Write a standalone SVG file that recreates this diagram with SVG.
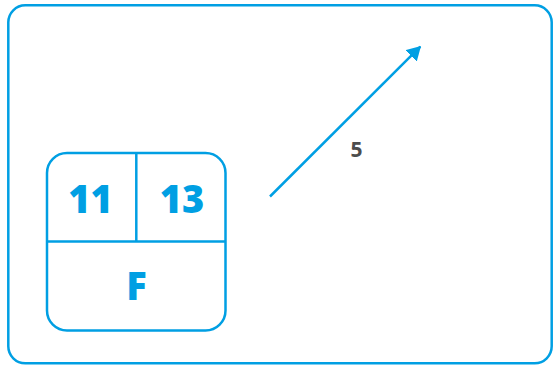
<svg xmlns="http://www.w3.org/2000/svg" width="559" height="365" viewBox="0 0 559 365">
  <style>
    .frame { fill: none; stroke: #009fe3; stroke-width: 2.5; }
    .line { fill: none; stroke: #009fe3; stroke-width: 2.5; }
    .big { font-family: "Open Sans", "Liberation Sans", sans-serif; font-weight: 800; font-size: 38px; fill: #009fe3; text-anchor: middle; }
    .lbl { font-family: "Open Sans", "Liberation Sans", sans-serif; font-weight: 700; font-size: 21px; fill: #4d4d4d; text-anchor: middle; }
  </style>
  <defs>
    <marker id="arrow" viewBox="0 0 14 16" refX="13" refY="8" markerWidth="14" markerHeight="16" markerUnits="userSpaceOnUse" orient="auto">
      <path d="M0,0 L14,8 L0,16 Z" fill="#009fe3"/>
    </marker>
  </defs>
  <rect class="frame" x="8.3" y="5.3" width="543.4" height="358" rx="17"/>
  <g id="node-card">
    <rect class="line" x="47" y="153" width="178.5" height="177.5" rx="20"/>
    <line class="line" x1="47" y1="241.5" x2="225.5" y2="241.5"/>
    <line class="line" x1="136.3" y1="153" x2="136.3" y2="241.5"/>
    <text class="big" x="90.5" y="213">11</text>
    <text class="big" x="182" y="213">13</text>
    <text class="big" x="136.5" y="300">F</text>
  </g>
  <g id="connectors">
    <line class="line" x1="270" y1="196.5" x2="420.3" y2="46.7" marker-end="url(#arrow)"/>
    <text class="lbl" x="356.5" y="157">5</text>
  </g>
</svg>
